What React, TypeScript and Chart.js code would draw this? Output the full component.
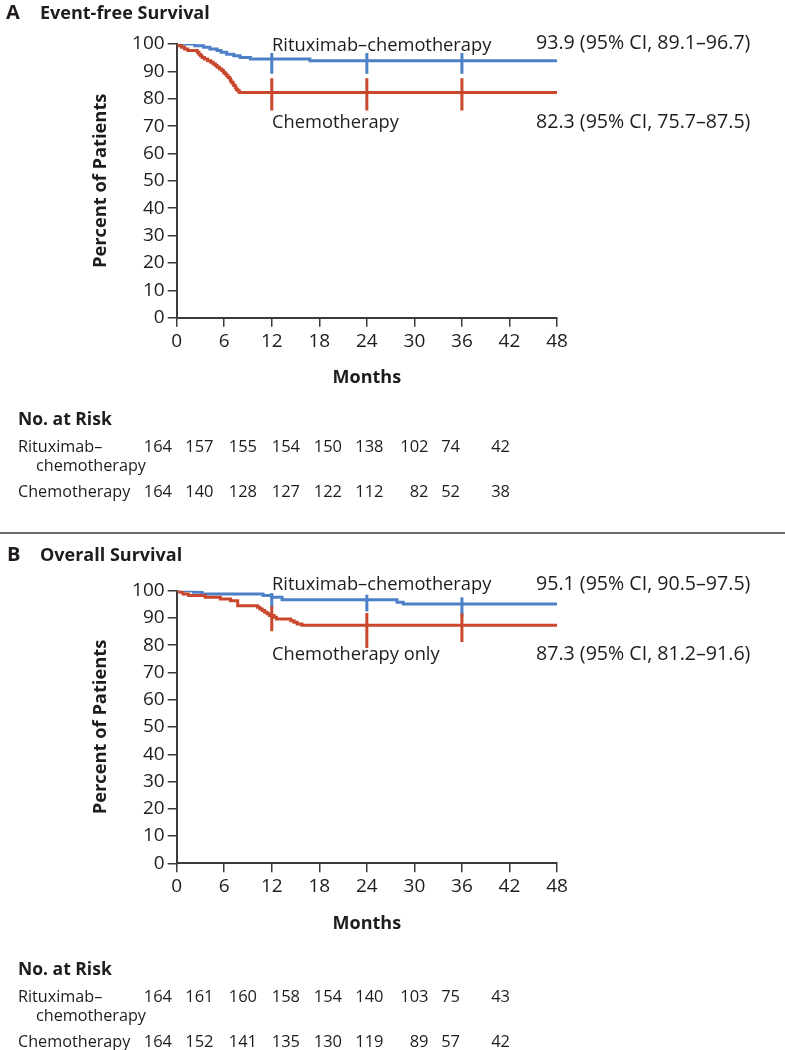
import React, { useEffect, useRef } from "react";
import { Chart, registerables } from "chart.js";
Chart.register(...registerables);

// ---------- data ----------
const monthTicks = [0, 6, 12, 18, 24, 30, 36, 42, 48];
const percentTicks = [0, 10, 20, 30, 40, 50, 60, 70, 80, 90, 100];

// Panel A: event-free survival (Kaplan-Meier steps: time in months, percent)
const efsRituxTimes = [0, 2.3, 3.4, 4.2, 5.1, 5.6, 6.3, 7.2, 8.0, 9.3, 16.8, 48];
const efsRituxSurv = [100, 99.4, 98.8, 98.2, 97.6, 97.0, 96.3, 95.7, 95.1, 94.5, 93.9, 93.9];
const efsChemoTimes = [0, 0.3, 0.6, 1.0, 1.4, 2.6, 2.8, 3.0, 3.2, 3.5, 3.9, 4.3, 4.6, 4.9, 5.1, 5.4, 5.7, 5.9, 6.1, 6.3, 6.5, 6.7, 6.8, 6.9, 7.1, 7.2, 7.4, 7.5, 7.7, 7.9, 48];
const efsChemoSurv = [100, 99.4, 98.8, 98.2, 97.6, 97.0, 96.3, 95.7, 95.1, 94.5, 93.9, 93.3, 92.7, 92.1, 91.5, 90.9, 90.3, 89.6, 89.0, 88.4, 87.8, 87.2, 86.6, 86.0, 85.4, 84.8, 84.1, 83.5, 82.9, 82.3, 82.3];
// confidence-interval bars: [month, low, high]
const efsRituxCI = [[12, 89.1, 96.7], [24, 89.1, 96.7], [36, 89.1, 96.7]];
const efsChemoCI = [[12, 75.7, 87.5], [24, 75.7, 87.5], [36, 75.7, 87.5]];

// Panel B: overall survival
const osRituxTimes = [0, 2.1, 3.2, 10.9, 12.0, 13.3, 27.8, 28.6, 48];
const osRituxSurv = [100, 99.4, 98.8, 98.2, 97.6, 96.7, 95.8, 95.1, 95.1];
const osChemoTimes = [0, 0.4, 0.8, 1.5, 3.6, 5.5, 6.8, 7.7, 10.2, 10.5, 10.8, 11.1, 11.4, 11.7, 12.3, 12.6, 14.4, 14.8, 15.2, 15.8, 48];
const osChemoSurv = [100, 99.4, 98.8, 98.2, 97.6, 97.0, 96.3, 94.5, 93.9, 93.3, 92.7, 92.1, 91.5, 90.9, 90.3, 89.6, 89.0, 88.4, 87.8, 87.3, 87.3];
const osRituxCI = [[12, 93.8, 99.2], [24, 92.4, 98.5], [36, 90.5, 97.6]];
const osChemoCI = [[12, 85.1, 94.3], [24, 79.0, 91.8], [36, 81.2, 91.6]];

// Numbers at risk
const efsRiskRitux = [164, 157, 155, 154, 150, 138, 102, 74, 42];
const efsRiskChemo = [164, 140, 128, 127, 122, 112, 82, 52, 38];
const osRiskRitux = [164, 161, 160, 158, 154, 140, 103, 75, 43];
const osRiskChemo = [164, 152, 141, 135, 130, 119, 89, 57, 42];

// Labels
const efsTitle = ["A", "Event-free Survival"];
const osTitle = ["B", "Overall Survival"];
const efsSeriesLabels = ["Rituximab–chemotherapy", "Chemotherapy"];
const osSeriesLabels = ["Rituximab–chemotherapy", "Chemotherapy only"];
const efsEstimates = ["93.9 (95% CI, 89.1–96.7)", "82.3 (95% CI, 75.7–87.5)"];
const osEstimates = ["95.1 (95% CI, 90.5–97.5)", "87.3 (95% CI, 81.2–91.6)"];
const riskHeader = "No. at Risk";
const riskRowLabels = ["Rituximab–", "chemotherapy", "Chemotherapy"];
const xTitle = "Months";
const yTitle = "Percent of Patients";

// ---------- styles ----------
const FONT = "'Open Sans', 'Noto Sans', sans-serif";
const TEXT = "#1f1c1b";
const AXIS = "#3a3a3a";
const BLUE = "#4d80c6";
const RED = "#c9472c";
const riskColRight = [172, 213.5, 257, 300, 342, 383.5, 428.5, 460, 510];

Chart.defaults.font.family = FONT;

type TextItem = { text: string; x: number; y: number; size: number; bold?: boolean; align?: CanvasTextAlign };

function textPlugin(items: TextItem[]) {
  return {
    id: "panelTexts",
    afterDraw(chart: any) {
      const ctx = chart.ctx as CanvasRenderingContext2D;
      ctx.save();
      ctx.fillStyle = TEXT;
      ctx.textBaseline = "alphabetic";
      for (const it of items) {
        ctx.font = `${it.bold ? "bold " : ""}${it.size}px ${FONT}`;
        ctx.textAlign = it.align || "left";
        ctx.fillText(it.text, it.x, it.y);
      }
      ctx.restore();
    },
  };
}

function kmDataset(times: number[], surv: number[], color: string, order: number) {
  return {
    data: times.map((t, i) => ({ x: t, y: surv[i] })),
    borderColor: color,
    borderWidth: 3,
    pointRadius: 0,
    stepped: "before" as const,
    fill: false,
    order,
    borderCapStyle: "butt" as const,
  };
}

function ciDatasets(ci: number[][], color: string, order: number) {
  return ci.map(([t, lo, hi]) => ({
    data: [{ x: t, y: lo }, { x: t, y: hi }],
    borderColor: color,
    borderWidth: 3,
    pointRadius: 0,
    fill: false,
    order,
    borderCapStyle: "butt" as const,
  }));
}

type PanelOpts = {
  top: number;
  bottom: number;
  canvasH: number;
  xAxisH: number;
  datasets: any[];
  texts: TextItem[];
};

function makeConfig(p: PanelOpts): any {
  return {
    type: "line",
    data: { datasets: p.datasets },
    options: {
      responsive: false,
      animation: false,
      devicePixelRatio: 1,
      events: [],
      layout: { padding: { top: p.top, right: 228, bottom: p.canvasH - p.bottom - p.xAxisH, left: 0 } },
      plugins: { legend: { display: false }, tooltip: { enabled: false } },
      scales: {
        x: {
          type: "linear",
          min: 0,
          max: 48,
          afterBuildTicks: (s: any) => {
            s.ticks = monthTicks.map((v) => ({ value: v }));
          },
          afterFit: (s: any) => {
            s.height = p.xAxisH;
          },
          ticks: { font: { size: 19 }, color: TEXT, padding: 3, autoSkip: false, maxRotation: 0 },
          grid: { drawOnChartArea: false, drawTicks: true, tickLength: 9, color: AXIS, lineWidth: 1.5 },
          border: { display: true, color: AXIS, width: 2 },
          title: { display: true, text: xTitle, color: TEXT, font: { size: 18, weight: "bold" }, padding: { top: 0, bottom: 0 } },
        },
        y: {
          type: "linear",
          min: 0,
          max: 100,
          afterBuildTicks: (s: any) => {
            s.ticks = percentTicks.map((v) => ({ value: v }));
          },
          afterFit: (s: any) => {
            s.width = 176.7;
          },
          ticks: { font: { size: 19 }, color: TEXT, padding: 3 },
          grid: { drawOnChartArea: false, drawTicks: true, tickLength: 9, color: AXIS, lineWidth: 1.5 },
          border: { display: true, color: AXIS, width: 2 },
          title: { display: true, text: yTitle, color: TEXT, font: { size: 18.3, weight: "bold" }, padding: { top: 90, bottom: 0 } },
        },
      },
    },
    plugins: [textPlugin(p.texts)],
  };
}

function riskTexts(base: number, ritux: number[], chemo: number[]): TextItem[] {
  const items: TextItem[] = [
    { text: riskHeader, x: 18, y: base, size: 17.5, bold: true },
    { text: riskRowLabels[0], x: 18, y: base + 27, size: 16.2 },
    { text: riskRowLabels[1], x: 36, y: base + 45.5, size: 16.2 },
    { text: riskRowLabels[2], x: 18, y: base + 72, size: 16.2 },
  ];
  ritux.forEach((n, i) => items.push({ text: String(n), x: riskColRight[i], y: base + 27, size: 16.5, align: "right" }));
  chemo.forEach((n, i) => items.push({ text: String(n), x: riskColRight[i], y: base + 72, size: 16.5, align: "right" }));
  return items;
}

const H_A = 530;
const H_B = 515;
const B_OFF = 535;

const configA = () =>
  makeConfig({
    top: 44,
    bottom: 317.7,
    canvasH: H_A,
    xAxisH: 71.1,
    datasets: [
      ...ciDatasets(efsChemoCI, RED, 0),
      kmDataset(efsChemoTimes, efsChemoSurv, RED, 1),
      ...ciDatasets(efsRituxCI, BLUE, 2),
      kmDataset(efsRituxTimes, efsRituxSurv, BLUE, 3),
    ],
    texts: [
      { text: efsTitle[0], x: 6, y: 19, size: 20, bold: true },
      { text: efsTitle[1], x: 40, y: 19, size: 18, bold: true },
      { text: efsSeriesLabels[0], x: 272, y: 51, size: 18.3 },
      { text: efsSeriesLabels[1], x: 272, y: 128, size: 18.3 },
      { text: efsEstimates[0], x: 536, y: 49, size: 19.6 },
      { text: efsEstimates[1], x: 536, y: 128, size: 19.6 },
      ...riskTexts(425, efsRiskRitux, efsRiskChemo),
    ],
  });

const configB = () =>
  makeConfig({
    top: 590.7 - B_OFF,
    bottom: 863.3 - B_OFF,
    canvasH: H_B,
    xAxisH: 71.5,
    datasets: [
      ...ciDatasets(osChemoCI, RED, 0),
      kmDataset(osChemoTimes, osChemoSurv, RED, 1),
      ...ciDatasets(osRituxCI, BLUE, 2),
      kmDataset(osRituxTimes, osRituxSurv, BLUE, 3),
    ],
    texts: [
      { text: osTitle[0], x: 7, y: 561 - B_OFF, size: 20, bold: true },
      { text: osTitle[1], x: 40, y: 561 - B_OFF, size: 18, bold: true },
      { text: osSeriesLabels[0], x: 272, y: 590 - B_OFF, size: 18.3 },
      { text: osSeriesLabels[1], x: 272, y: 660 - B_OFF, size: 18.3 },
      { text: osEstimates[0], x: 536, y: 590 - B_OFF, size: 19.6 },
      { text: osEstimates[1], x: 536, y: 660 - B_OFF, size: 19.6 },
      ...riskTexts(975 - B_OFF, osRiskRitux, osRiskChemo),
    ],
  });

export default function App() {
  const refA = useRef<HTMLCanvasElement>(null);
  const refB = useRef<HTMLCanvasElement>(null);
  useEffect(() => {
    const a = new Chart(refA.current as HTMLCanvasElement, configA());
    const b = new Chart(refB.current as HTMLCanvasElement, configB());
    return () => {
      a.destroy();
      b.destroy();
    };
  }, []);
  return (
    <div style={{ position: "absolute", left: 0, top: 0, width: 785, height: 1050, background: "#fff", overflow: "hidden" }}>
      <canvas ref={refA} width={785} height={H_A} style={{ position: "absolute", left: 0, top: 0, width: 785, height: H_A }} />
      <div style={{ position: "absolute", left: 0, top: 532, width: 785, height: 2, background: "#6e6e6e" }} />
      <canvas ref={refB} width={785} height={H_B} style={{ position: "absolute", left: 0, top: B_OFF, width: 785, height: H_B }} />
    </div>
  );
}
